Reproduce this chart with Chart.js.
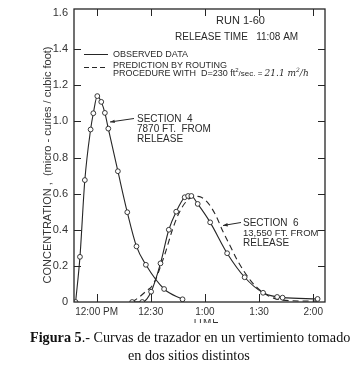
<!DOCTYPE html>
<html><head><meta charset="utf-8">
<script src="https://cdn.jsdelivr.net/npm/chart.js@4.4.0/dist/chart.umd.min.js"></script>
<style>
html,body{margin:0;padding:0;background:#fff;}
#wrap{position:relative;width:355px;height:366px;overflow:hidden;background:#fff;}
#c{position:absolute;left:0;top:0;}
.cap{position:absolute;white-space:nowrap;font-family:"Liberation Serif","Times New Roman",serif;font-size:14.2px;line-height:16px;color:#111;}
#timeClip{position:absolute;left:192px;top:319px;width:40px;height:4px;overflow:hidden;}
#timeClip span{position:absolute;left:0;top:-2px;font:10px "Liberation Sans",Arial,sans-serif;color:#333;letter-spacing:1px;}
</style></head><body>
<div id="wrap">
<canvas id="c" width="355" height="366"></canvas>
<div id="timeClip"><span>TIME</span></div>
<div class="cap" id="cap1" style="left:30px;top:329px;"><b>Figura 5</b>.- Curvas de trazador en un vertimiento tomado</div>
<div class="cap" id="cap2" style="left:128px;top:347px;">en dos sitios distintos</div>
</div>
<script>
// ---- data (minutes after 12:00 PM, concentration in micro-curies/cubic foot)
const sec4Times = [-11.6, -9.2, -6.5, -3.3, -1.8, 0.4, 2.6, 4.6, 6.5, 11.8, 17.0, 22.1, 27.3, 37.4, 47.6];
const sec4Conc  = [0, 0.25, 0.675, 0.955, 1.045, 1.14, 1.108, 1.047, 0.96, 0.724, 0.497, 0.308, 0.206, 0.072, 0.015];
const sec6Times = [19.7, 25.3, 30.2, 35.4, 40.0, 44.1, 48.8, 50.7, 52.5, 56.0, 62.9, 72.3, 82.0, 92.2, 100.0, 103.0, 122.4];
const sec6Conc  = [0, 0, 0.057, 0.214, 0.40, 0.50, 0.58, 0.587, 0.587, 0.543, 0.441, 0.27, 0.137, 0.051, 0.028, 0.024, 0.017];
const predTimes = [19.7, 24, 28, 30, 32.5, 35, 38, 42, 45.5, 50, 55, 58, 62, 66, 70, 74, 78, 82, 86, 90, 95, 100, 108, 122];
const predConc  = [0, 0.03, 0.065, 0.08, 0.12, 0.185, 0.27, 0.40, 0.49, 0.56, 0.585, 0.58, 0.545, 0.48, 0.39, 0.31, 0.23, 0.165, 0.11, 0.07, 0.035, 0.016, 0.007, 0.005];
const xTickValues = [0, 30, 60, 90, 120];
const xTickLabels = ['12:00 PM', '12:30', '1:00', '1:30', '2:00'];
const yTickValues = [0, 0.2, 0.4, 0.6, 0.8, 1.0, 1.2, 1.4, 1.6];
const yTickLabels = ['0', '0.2', '0.4', '0.6', '0.8', '1.0', '1.2', '1.4', '1.6'];

const INK = '#262626';
const SANS = '"Liberation Sans", Arial, sans-serif';
const pts = (xs, ys) => xs.map((x, i) => ({x, y: ys[i]}));

const deco = {
  id: 'deco',
  afterDraw(chart) {
    const {ctx, chartArea: a, scales: {x, y}} = chart;
    const top = a.top - 4;
    ctx.save();
    ctx.strokeStyle = INK; ctx.fillStyle = INK;
    // frame
    ctx.lineWidth = 1.3;
    ctx.strokeRect(a.left, top, a.right - a.left, a.bottom - top);
    // inward ticks
    ctx.lineWidth = 1;
    ctx.beginPath();
    yTickValues.forEach(v => {
      if (v === 0 || v === 1.6) return;
      const py = Math.round(y.getPixelForValue(v)) + 0.5;
      ctx.moveTo(a.left, py); ctx.lineTo(a.left + 7, py);
      ctx.moveTo(a.right, py); ctx.lineTo(a.right - 7, py);
    });
    xTickValues.forEach(v => {
      const px = Math.round(x.getPixelForValue(v)) + 0.5;
      ctx.moveTo(px, a.bottom); ctx.lineTo(px, a.bottom - 8);
      ctx.moveTo(px, top); ctx.lineTo(px, top + 7);
    });
    ctx.stroke();

    // y-axis title
    ctx.save();
    ctx.translate(48, 165);
    ctx.rotate(-Math.PI / 2);
    ctx.font = '11px ' + SANS;
    ctx.textAlign = 'center'; ctx.textBaseline = 'middle';
    ctx.fillStyle = '#333';
    ctx.fillText('CONCENTRATION ,  (micro - curies / cubic foot)', 0, 0);
    ctx.restore();

    ctx.textBaseline = 'middle'; ctx.textAlign = 'left';
    ctx.fillStyle = '#2a2a2a';
    // header
    ctx.font = '11px ' + SANS;
    ctx.fillText('RUN 1-60', 216, 21);
    ctx.font = '10px ' + SANS;
    ctx.fillText('RELEASE TIME   11:08 AM', 175, 37);

    // legend
    ctx.font = '9px ' + SANS;
    ctx.lineWidth = 1;
    ctx.beginPath(); ctx.moveTo(84, 54.5); ctx.lineTo(108, 54.5); ctx.stroke();
    ctx.fillText('OBSERVED DATA', 113, 54.5);
    ctx.setLineDash([5, 3]);
    ctx.beginPath(); ctx.moveTo(84, 67.5); ctx.lineTo(108, 67.5); ctx.stroke();
    ctx.setLineDash([]);
    ctx.fillText('PREDICTION BY ROUTING', 113, 65.5);
    let cx = 113; const ly = 74;
    const seg = (t, font, dy) => { ctx.font = font; ctx.fillText(t, cx, ly + (dy || 0)); cx += ctx.measureText(t).width; };
    seg('PROCEDURE WITH  D=230 ft', '9px ' + SANS);
    seg('2', '6px ' + SANS, -4);
    seg('/sec. = ', '8px ' + SANS);
    seg('21.1 m', 'italic 9px "DejaVu Serif", serif');
    seg('2', 'italic 6px "DejaVu Serif", serif', -4);
    seg('/h', 'italic 9px "DejaVu Serif", serif');

    // annotations
    ctx.font = '10px ' + SANS;
    ctx.fillText('SECTION  4', 137, 119);
    ctx.fillText('7870 FT.  FROM', 137, 129);
    ctx.fillText('RELEASE', 137, 139);
    ctx.font = '10px ' + SANS;
    ctx.fillText('SECTION  6', 243, 223);
    ctx.font = '9.5px ' + SANS;
    ctx.fillText('13,550 FT. FROM', 243, 233);
    ctx.font = '10px ' + SANS;
    ctx.fillText('RELEASE', 243, 243);

    const arrow = (x1, y1, x2, y2) => {
      ctx.beginPath(); ctx.moveTo(x1, y1); ctx.lineTo(x2, y2); ctx.stroke();
      const ang = Math.atan2(y2 - y1, x2 - x1);
      ctx.beginPath();
      ctx.moveTo(x2, y2);
      ctx.lineTo(x2 - 5 * Math.cos(ang - 0.35), y2 - 5 * Math.sin(ang - 0.35));
      ctx.lineTo(x2 - 5 * Math.cos(ang + 0.35), y2 - 5 * Math.sin(ang + 0.35));
      ctx.closePath(); ctx.fill();
    };
    arrow(134, 118.5, 110, 122);
    arrow(241, 222.5, 223, 225.5);
    ctx.restore();
  }
};

new Chart(document.getElementById('c'), {
  type: 'line',
  data: {
    datasets: [
      { label: 'Section 4', data: pts(sec4Times, sec4Conc), borderColor: INK, borderWidth: 1.1,
        pointRadius: 2.4, pointBackgroundColor: '#fff', pointBorderColor: INK, pointBorderWidth: 0.9,
        cubicInterpolationMode: 'monotone', fill: false },
      { label: 'Section 6', data: pts(sec6Times, sec6Conc), borderColor: INK, borderWidth: 1.1,
        pointRadius: 2.4, pointBackgroundColor: '#fff', pointBorderColor: INK, pointBorderWidth: 0.9,
        cubicInterpolationMode: 'monotone', fill: false },
      { label: 'Prediction', data: pts(predTimes, predConc), borderColor: INK, borderWidth: 1.1,
        borderDash: [6, 4], pointRadius: 0, cubicInterpolationMode: 'monotone', fill: false, order: 5 }
    ]
  },
  options: {
    responsive: false, animation: false, devicePixelRatio: 1,
    layout: { padding: { top: 13, right: 30, left: 0, bottom: 0 } },
    plugins: { legend: { display: false }, tooltip: { enabled: false }, title: { display: false } },
    scales: {
      x: {
        type: 'linear', min: -12.5, max: 126.5,
        grid: { display: false, drawTicks: false }, border: { display: false },
        afterBuildTicks: s => { s.ticks = xTickValues.map(v => ({ value: v })); },
        afterFit: s => { s.height = 64; },
        ticks: { padding: 4, color: '#333', font: { family: SANS, size: 10 }, maxRotation: 0, autoSkip: false,
          callback: (v, i) => xTickLabels[i] }
      },
      y: {
        type: 'linear', min: 0, max: 1.6,
        grid: { display: false, drawTicks: false }, border: { display: false },
        afterBuildTicks: s => { s.ticks = yTickValues.map(v => ({ value: v })); },
        afterFit: s => { s.width = 74; },
        ticks: { padding: 6, color: '#333', font: { family: SANS, size: 11 },
          callback: (v, i) => yTickLabels[i] }
      }
    }
  },
  plugins: [deco]
});
</script>
</body></html>
